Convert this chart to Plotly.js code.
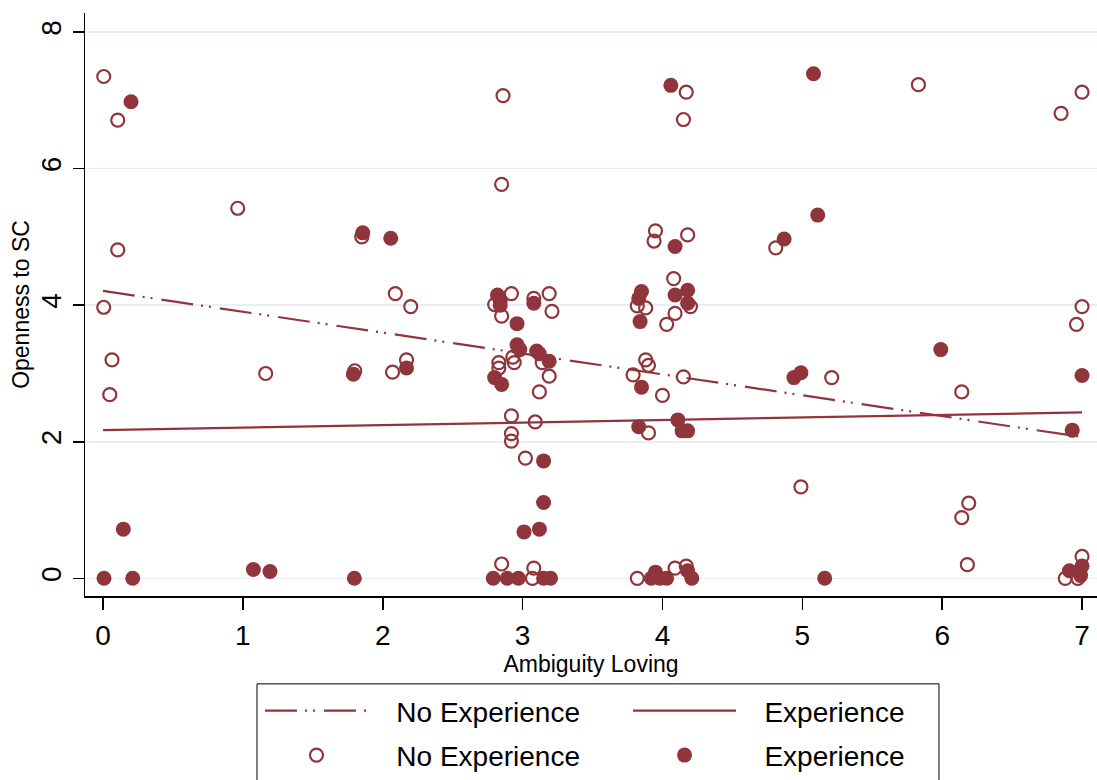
<!DOCTYPE html>
<html>
<head>
<meta charset="utf-8">
<script src="https://cdn.plot.ly/plotly-3.0.1.min.js"></script>
<style>html,body{margin:0;padding:0;background:#fff;}#chart{width:1097px;height:780px;}</style>
</head>
<body>
<div id="chart"></div>
<script>
// No Experience (hollow markers)
const noExpX = [0.005,0.105,0.963,1.85,0.105,2.09,2.20,0.005,0.064,0.048,1.163,1.80,2.07,2.17,
  2.86,4.17,4.15,2.85,3.95,3.94,4.18,4.08,2.92,2.80,2.85,3.08,3.19,3.21,2.93,2.94,3.14,2.83,2.83,
  3.19,3.12,2.92,3.09,2.92,2.92,3.02,3.82,3.88,4.20,4.09,4.03,3.88,3.90,3.79,4.15,4.00,3.90,
  2.85,3.08,3.07,3.82,4.09,4.17,5.83,7.00,6.85,4.81,7.00,6.96,5.21,6.14,4.99,6.19,6.14,6.18,7.00,6.88,6.97];
const noExpY = [7.35,6.71,5.42,5.00,4.81,4.17,3.98,3.97,3.20,2.69,3.00,3.04,3.02,3.20,
  7.07,7.12,6.72,5.77,5.09,4.94,5.03,4.39,4.17,4.01,3.84,4.10,4.17,3.91,3.24,3.16,3.16,3.16,3.08,
  2.96,2.73,2.38,2.29,2.12,2.01,1.76,3.99,3.96,3.98,3.88,3.72,3.20,3.12,2.98,2.95,2.68,2.13,
  0.21,0.15,0.00,0.00,0.15,0.18,7.23,7.12,6.81,4.84,3.98,3.72,2.94,2.73,1.34,1.10,0.89,0.20,0.32,0.00,0.00];

// Experience (filled markers)
const expX = [0.20,1.857,2.057,1.79,2.17,0.145,0.007,0.212,1.075,1.194,1.797,
  4.06,4.09,2.82,2.84,2.84,2.96,3.08,2.96,2.98,3.10,3.12,3.19,2.80,2.85,3.15,
  3.85,3.83,3.84,4.09,4.18,4.18,3.85,3.83,4.11,4.14,4.18,3.15,3.01,3.12,
  2.79,2.89,2.97,3.15,3.20,3.95,3.92,3.98,4.03,4.18,4.21,
  5.08,5.11,4.87,5.99,4.94,4.99,7.00,6.93,5.16,6.91,7.00,6.99];
const expY = [6.98,5.06,4.98,2.99,3.08,0.72,0.00,0.00,0.13,0.10,0.00,
  7.22,4.86,4.15,4.06,4.00,3.73,4.03,3.42,3.35,3.33,3.29,3.18,2.94,2.84,1.72,
  4.20,4.10,3.76,4.15,4.22,4.03,2.80,2.22,2.32,2.16,2.16,1.11,0.68,0.72,
  0.00,0.00,0.00,0.00,0.00,0.09,0.00,0.00,0.00,0.11,0.00,
  7.39,5.32,4.97,3.35,2.94,3.01,2.97,2.17,0.00,0.11,0.18,0.04];

// Fitted lines
const fitX = [0, 7];
const fitNoExpY = [4.21, 2.07];
const fitExpY = [2.17, 2.43];

const xTicks = [0,1,2,3,4,5,6,7];
const yTicks = [0,2,4,6,8];
const xTitle = 'Ambiguity Loving';
const yTitle = 'Openness to SC';
const labelNoExp = 'No Experience';
const labelExp = 'Experience';

const red = 'rgb(144,53,59)';
const font = 'Liberation Sans, Arial, Helvetica, sans-serif';
const pad = '\u00a0\u00a0\u00a0';

const traces = [
  {x: fitX, y: fitNoExpY, mode: 'lines', name: pad + labelNoExp, legend: 'legend', legendgroup: 'a',
   line: {color: red, width: 2.2, dash: '32px,8px,2px,6px,2px,9px'}, hoverinfo: 'skip'},
  {x: fitX, y: fitExpY, mode: 'lines', name: pad + labelExp, legend: 'legend2', legendgroup: 'c',
   line: {color: red, width: 2.2}, hoverinfo: 'skip'},
  {x: noExpX, y: noExpY, mode: 'markers', name: pad + labelNoExp, legend: 'legend', legendgroup: 'b',
   marker: {symbol: 'circle-open', size: 13, color: red, line: {color: red, width: 2.2}}},
  {x: expX, y: expY, mode: 'markers', name: pad + labelExp, legend: 'legend2', legendgroup: 'd',
   marker: {symbol: 'circle', size: 15, color: red, line: {width: 0}}}
];

const legendBase = {
  orientation: 'v', xanchor: 'left', y: -0.1544, yanchor: 'top',
  borderwidth: 0, bgcolor: 'rgba(0,0,0,0)',
  font: {size: 28, family: font, color: '#000'},
  itemwidth: 103, traceorder: 'grouped', tracegroupgap: 5
};

const layout = {
  width: 1097, height: 780,
  margin: {l: 85, r: 0, t: 13, b: 183, pad: 0},
  paper_bgcolor: '#fff', plot_bgcolor: '#fff',
  font: {family: font, color: '#000'},
  showlegend: true,
  legend: Object.assign({}, legendBase, {x: 0.1729}),
  legend2: Object.assign({}, legendBase, {x: 0.5366}),
  shapes: [{
    type: 'rect', xref: 'paper', yref: 'paper',
    x0: 0.16996, x1: 0.84387, y0: -0.15068, y1: -0.34,
    line: {color: '#000', width: 1}, fillcolor: 'rgba(0,0,0,0)', layer: 'above'
  }],
  xaxis: {
    range: [-0.129, 7.107], tickvals: xTicks, ticktext: xTicks.map(String),
    showgrid: false, zeroline: false, showline: true, linecolor: '#000', linewidth: 1.5,
    ticks: 'outside', ticklen: 12, tickwidth: 1.5, tickcolor: '#000',
    ticklabelstandoff: 2,
    tickfont: {size: 28, family: font},
    title: {text: xTitle, font: {size: 23, family: font}, standoff: 0}
  },
  yaxis: {
    range: [-0.259, 8.28], tickvals: yTicks, ticktext: yTicks.map(String), tickangle: -90,
    showgrid: true, gridcolor: '#e8eff1', gridwidth: 1.5,
    zeroline: false, showline: true, linecolor: '#000', linewidth: 1.5,
    ticks: 'outside', ticklen: 11, tickwidth: 1.5, tickcolor: '#000',
    tickfont: {size: 28, family: font},
    title: {text: yTitle, font: {size: 23, family: font}, standoff: 0}
  }
};

Plotly.newPlot('chart', traces, layout, {displayModeBar: false, staticPlot: true});
</script>
</body>
</html>
